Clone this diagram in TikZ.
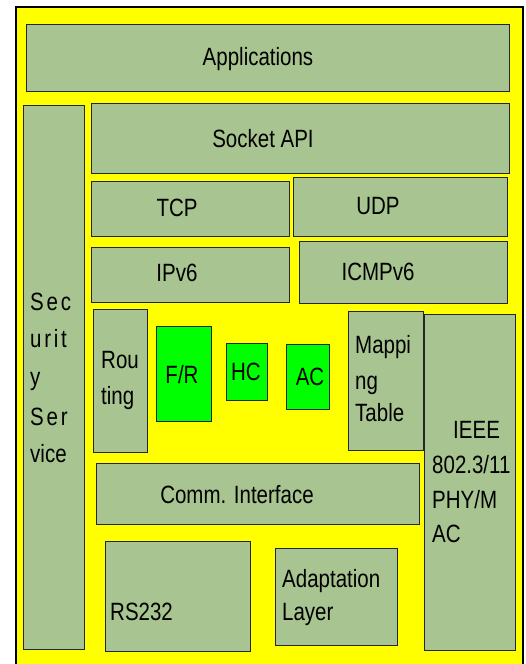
\documentclass[tikz,border=0pt]{standalone}
\usepackage{fontspec}
\setmainfont{Liberation Sans}[FakeStretch=0.82]
\usetikzlibrary{positioning}
\definecolor{frameYellow}{RGB}{255,255,0}
\definecolor{layerGreen}{RGB}{168,196,144}
\definecolor{blockGreen}{RGB}{0,255,0}
\definecolor{edgeDark}{RGB}{38,38,38}

\begin{document}
\begin{tikzpicture}[
    x=1pt, y=-1pt,
    layerBox/.style={
        rectangle, draw=edgeDark, fill=layerGreen, line width=1.3pt,
        anchor=north west, inner sep=0pt
    },
    blockBox/.style={
        layerBox, fill=blockGreen
    },
    lbl/.style={
        inner sep=0pt, text=black, font=\fontsize{25}{35}\selectfont
    },
    lblW/.style={lbl, anchor=base west},
    lblC/.style={lbl, anchor=base},
    spaced/.style={lblW, font=\fontsize{25}{35}\selectfont\addfontfeature{LetterSpace=11}}
]
    \useasboundingbox (0,0) rectangle (525,664);
    \fill[white] (0,0) rectangle (525,664);

    % Yellow frame
    \draw[fill=frameYellow, line width=1.5pt] (16,7) rectangle (523,690);

    % Layer boxes
    \node[layerBox, minimum width=483pt, minimum height=67pt] (app) at (26,24) {};
    \node[layerBox, minimum width=61pt, minimum height=544pt] (sec) at (23,105) {};
    \node[layerBox, minimum width=418pt, minimum height=70pt] (sock) at (91,103) {};
    \node[layerBox, minimum width=198pt, minimum height=55pt] (tcp) at (91,181) {};
    \node[layerBox, minimum width=214pt, minimum height=59pt] (udp) at (293,177) {};
    \node[layerBox, minimum width=198pt, minimum height=55pt] (ipv6) at (91,247) {};
    \node[layerBox, minimum width=208pt, minimum height=62pt] (icmp) at (299,241) {};
    \node[layerBox, minimum width=54pt, minimum height=143pt] (rout) at (93,309) {};
    \node[layerBox, minimum width=75pt, minimum height=139pt] (map) at (348,311) {};
    \node[layerBox, minimum width=91pt, minimum height=336pt] (ieee) at (424,314) {};
    \node[layerBox, minimum width=323pt, minimum height=61pt] (comm) at (96,463) {};
    \node[layerBox, minimum width=145pt, minimum height=110pt] (rs) at (105,541) {};
    \node[layerBox, minimum width=122pt, minimum height=97pt] (adapt) at (275,548) {};

    % Green blocks
    \node[blockBox, minimum width=55pt, minimum height=95pt] (fr) at (156,326) {};
    \node[blockBox, minimum width=41pt, minimum height=57pt] (hc) at (226,343) {};
    \node[blockBox, minimum width=43pt, minimum height=65pt] (ac) at (286,344) {};

    % Labels
    \node[lblC] (appTxt) at (258,65) {Applications};
    \node[lblC] (sockTxt) at (263,147) {Socket API};
    \node[lblC] (tcpTxt) at (177,216) {TCP};
    \node[lblC] (udpTxt) at (378,214) {UDP};
    \node[lblC] (ipv6Txt) at (177,281) {IPv6};
    \node[lblC] (icmpTxt) at (378,280) {ICMPv6};

    \node[spaced] (secTxtA) at (30,310) {Sec};
    \node[spaced] (secTxtB) at (30,347) {urit};
    \node[spaced] (secTxtC) at (30,385) {y};
    \node[spaced] (secTxtD) at (30,425) {Ser};
    \node[lblW] (secTxtE) at (30,462) {vice};

    \node[lblW] (routTxtA) at (101,368) {Rou};
    \node[lblW] (routTxtB) at (101,404) {ting};

    \node[lblC] (frTxt) at (182,383) {F/R};
    \node[lblC] (hcTxt) at (246,380) {HC};
    \node[lblC] (acTxt) at (310,385) {AC};

    \node[lblW] (mapTxtA) at (355,353) {Mappi};
    \node[lblW] (mapTxtB) at (355,389) {ng};
    \node[lblW] (mapTxtC) at (355,421) {Table};

    \node[lblW] (ieeeTxtA) at (453,438) {IEEE};
    \node[lblW] (ieeeTxtB) at (432,473) {802.3/11};
    \node[lblW] (ieeeTxtC) at (432,508) {PHY/M};
    \node[lblW] (ieeeTxtD) at (432,542) {AC};

    \node[lblC] (commTxt) at (237,503) {Comm. Interface};
    \node[lblW] (rsTxt) at (110,620) {RS232};
    \node[lblW] (adaptTxtA) at (282,587) {Adaptation};
    \node[lblW] (adaptTxtB) at (282,620) {Layer};

\end{tikzpicture}
\end{document}
